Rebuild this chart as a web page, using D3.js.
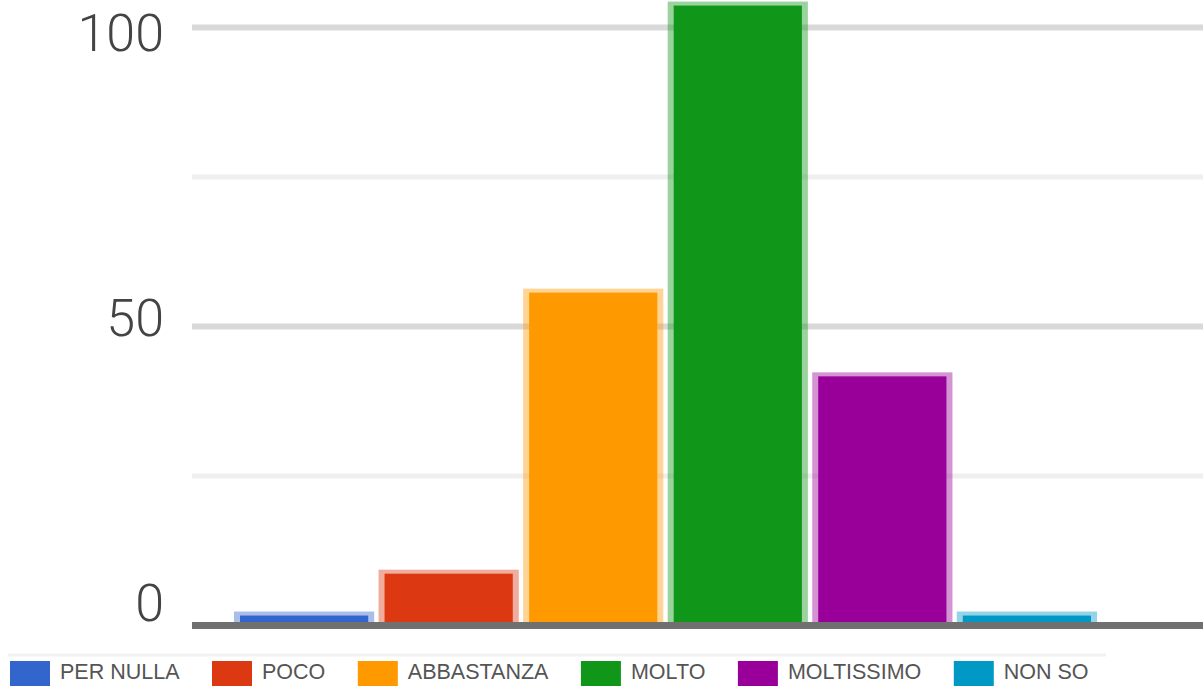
<!DOCTYPE html>
<html>
<head>
<meta charset="utf-8">
<script src="https://cdn.jsdelivr.net/npm/d3@7"></script>
<style>
  html, body { margin: 0; padding: 0; background: #fff; }
  svg { display: block; }
</style>
</head>
<body>
<svg id="chart" width="1203" height="686"></svg>
<script>
const categories = ["PER NULLA", "POCO", "ABBASTANZA", "MOLTO", "MOLTISSIMO", "NON SO"];
const values = [2, 9, 56, 104, 42, 2];
const colors = ["#3366cc", "#dc3912", "#ff9900", "#109618", "#990099", "#0099c6"];
const majorTicks = [50, 100];
const minorTicks = [25, 75];
const tickLabels = [0, 50, 100];

const svg = d3.select("#chart");
const W = 1203, H = 686;

const y = d3.scaleLinear().domain([0, 100]).range([625.5, 27.5]);
const yLab = d3.scaleLinear().domain([0, 100]).range([604, 34]);
const x = d3.scaleBand().domain(categories).range([234, 1097]).paddingInner(0.03);

// gridlines
svg.append("g").selectAll("line.minor").data(minorTicks).join("line")
  .attr("x1", 192).attr("x2", W)
  .attr("y1", d => y(d)).attr("y2", d => y(d))
  .attr("stroke", "#efefef").attr("stroke-width", 5);
svg.append("g").selectAll("line.major").data(majorTicks).join("line")
  .attr("x1", 192).attr("x2", W)
  .attr("y1", d => y(d)).attr("y2", d => y(d))
  .attr("stroke", "#d9d9d9").attr("stroke-width", 6);

// bars
const bars = svg.append("g").selectAll("g").data(categories).join("g");
bars.append("rect")
  .attr("x", d => x(d))
  .attr("width", x.bandwidth())
  .attr("y", (d, i) => y(values[i]) - 2)
  .attr("height", (d, i) => y(0) - y(values[i]) + 2)
  .attr("fill", (d, i) => colors[i])
  .attr("fill-opacity", 0.42);
bars.append("rect")
  .attr("x", d => x(d) + 6)
  .attr("width", x.bandwidth() - 12)
  .attr("y", (d, i) => y(values[i]) + 2)
  .attr("height", (d, i) => Math.max(0, y(0) - y(values[i]) - 2))
  .attr("fill", (d, i) => colors[i]);

// baseline
svg.append("line")
  .attr("x1", 192).attr("x2", W)
  .attr("y1", y(0)).attr("y2", y(0))
  .attr("stroke", "#707070").attr("stroke-width", 7);

// y labels
const axis = d3.axisLeft(yLab).tickValues(tickLabels).tickSize(0).tickPadding(0);
const gAxis = svg.append("g").attr("transform", "translate(164,0)").call(axis);
gAxis.select(".domain").remove();
gAxis.selectAll("text")
  .attr("font-family", "Roboto, 'Liberation Sans', Arial, sans-serif")
  .attr("font-weight", 300)
  .attr("font-size", 52)
  .attr("fill", "#444");

// legend
svg.append("line")
  .attr("x1", 8).attr("x2", 1106).attr("y1", 655).attr("y2", 655)
  .attr("stroke", "#f1f1f1").attr("stroke-width", 3);
const legend = svg.append("g");
let lx = 10;
categories.forEach((c, i) => {
  const g = legend.append("g").attr("transform", `translate(${lx},0)`);
  g.append("rect").attr("x", 0).attr("y", 661).attr("width", 40).attr("height", 30)
    .attr("fill", colors[i]);
  const t = g.append("text").attr("x", 50).attr("y", 679)
    .attr("font-family", "'Liberation Sans', Arial, sans-serif")
    .attr("font-size", 21.5)
    .attr("fill", "#555")
    .text(c);
  lx += 50 + t.node().getComputedTextLength() + 32.5;
});
</script>
</body>
</html>
